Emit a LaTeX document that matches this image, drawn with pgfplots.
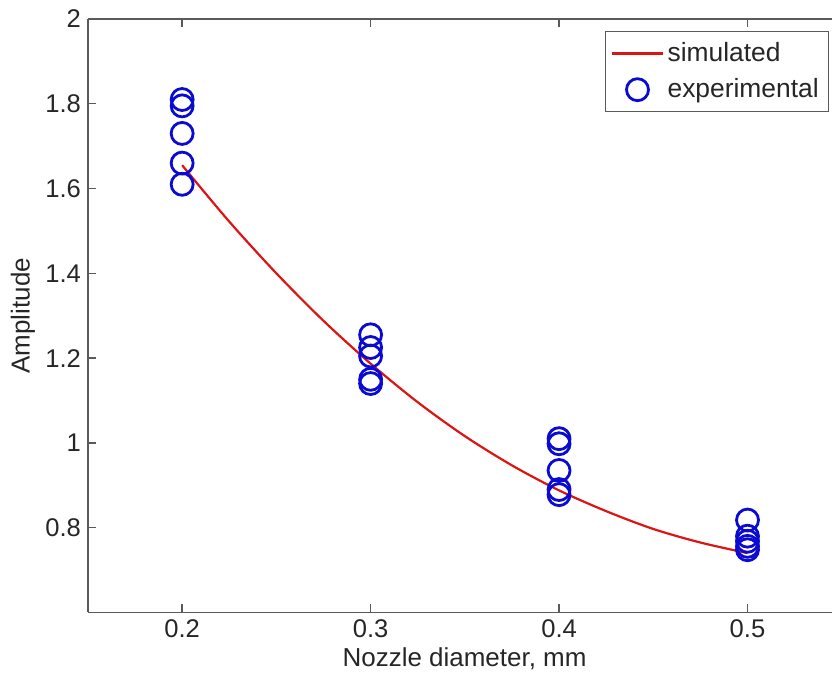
\documentclass[border=0pt]{standalone}
\usepackage{pgfplots}
\pgfplotsset{compat=1.18}
\usepackage{fontspec}
\setmainfont{Liberation Sans}
\definecolor{axgray}{RGB}{90,90,90}
\definecolor{mblue}{RGB}{10,10,210}
\definecolor{mred}{RGB}{220,20,20}
\pgfplotsset{
    longline legend/.style={legend image code/.code={\draw[##1] (0cm,0cm) -- (0.88cm,0cm);}},
    centermark legend/.style={legend image code/.code={\draw[##1] plot coordinates {(0.44cm,0cm)};}},
}
\begin{document}
\begin{tikzpicture}
\begin{axis}[
    name=ax,
    scale only axis,
    width=372.5pt, height=297pt,
    xmin=0.15, xmax=0.545,
    ymin=0.6, ymax=2,
    xtick={0.2,0.3,0.4,0.5},
    ytick={0.8,1,1.2,1.4,1.6,1.8,2},
    yticklabels={0.8,1,1.2,1.4,1.6,1.8,2},
    xticklabels={0.2,0.3,0.4,0.5},
    axis y line*=left,
    axis x line*=box,
    axis line style={axgray, line width=0.7pt},
    tick style={axgray, line width=0.7pt},
    tick align=inside,
    major tick length=4pt,
    font=\fontsize{13}{15}\selectfont,
    tick label style={font=\fontsize{12.8}{15}\selectfont, black!85},
    /pgf/number format/assume math mode=true,
    xlabel={Nozzle diameter, mm},
    ylabel={Amplitude},
    label style={black!85},
    xlabel style={at={(axis description cs:0.506,0)}, anchor=north, yshift=-14pt},
    ylabel style={at={(axis description cs:0,0.5)}, anchor=center, yshift=32.5pt},
    legend style={at={(rel axis cs:0.996,0.98)}, anchor=north east,
        draw=axgray, line width=0.7pt, text=black!85,
        font=\fontsize{13.2}{15.5}\selectfont, row sep=3pt,
        inner xsep=3pt, inner ysep=3.5pt},
    legend cell align=left,
    clip=false,
]
\addplot[mred, line width=1.1pt, smooth, no marks, longline legend]
    coordinates {
    (0.2,1.655)(0.225,1.522)(0.25,1.400)(0.275,1.288)(0.3,1.187)
    (0.325,1.096)(0.35,1.016)(0.375,0.947)(0.4,0.888)
    (0.425,0.839)(0.45,0.797)(0.475,0.765)(0.5,0.740)
    };
\addlegendentry{simulated}
\addplot[only marks, mark=o, mark size=5.5pt,
    mark options={mblue, line width=1.4pt}, centermark legend]
    coordinates {
    (0.2,1.81)(0.2,1.795)(0.2,1.73)(0.2,1.66)(0.2,1.61)
    (0.3,1.255)(0.3,1.225)(0.3,1.205)(0.3,1.15)(0.3,1.14)
    (0.4,1.01)(0.4,0.998)(0.4,0.935)(0.4,0.89)(0.4,0.878)
    (0.5,0.818)(0.5,0.78)(0.5,0.768)(0.5,0.756)(0.5,0.748)
    };
\addlegendentry{experimental}
\end{axis}
\path[use as bounding box] ([shift={(-44pt,-32pt)}]ax.south west) rectangle ([shift={(0pt,9.5pt)}]ax.north east);
\end{tikzpicture}
\end{document}
